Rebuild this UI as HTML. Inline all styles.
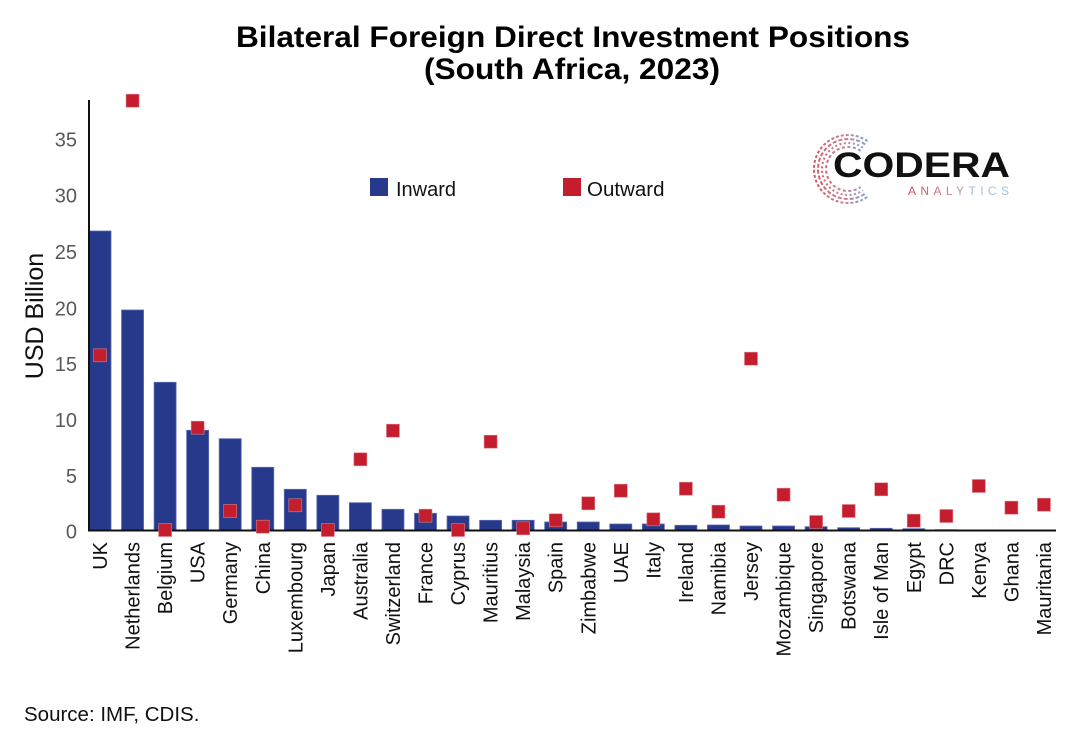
<!DOCTYPE html>
<html>
<head>
<meta charset="utf-8">
<style>
  html, body { margin: 0; padding: 0; background: #ffffff; }
  svg { display: block; }
  text { font-family: "Liberation Sans", Arial, sans-serif; }
</style>
</head>
<body>
<svg width="1080" height="748" viewBox="0 0 1080 748" xmlns="http://www.w3.org/2000/svg">
  <defs>
    <linearGradient id="lg" x1="908" y1="0" x2="1009" y2="0" gradientUnits="userSpaceOnUse">
      <stop offset="0" stop-color="#d4505c"/>
      <stop offset="0.45" stop-color="#c98a96"/>
      <stop offset="0.6" stop-color="#a8b8d0"/>
      <stop offset="1" stop-color="#9cc4e4"/>
    </linearGradient>
    <linearGradient id="ag" x1="812" y1="0" x2="870" y2="0" gradientUnits="userSpaceOnUse">
      <stop offset="0" stop-color="#d2505c"/>
      <stop offset="0.55" stop-color="#c77a8a"/>
      <stop offset="1" stop-color="#6fa6da"/>
    </linearGradient>
  </defs>
  <rect width="1080" height="748" fill="#ffffff"/>

  <!-- Title -->
  <text x="573" y="47" text-anchor="middle" font-size="30" font-weight="bold" fill="#000" textLength="674" lengthAdjust="spacingAndGlyphs">Bilateral Foreign Direct Investment Positions</text>
  <text x="572" y="79" text-anchor="middle" font-size="30" font-weight="bold" fill="#000" textLength="296" lengthAdjust="spacingAndGlyphs">(South Africa, 2023)</text>

  <!-- Logo -->
  <g fill="none" stroke="url(#ag)" stroke-width="2" opacity="0.95">
    <path d="M867.5 141.2 A34 34 0 1 0 867.5 196.8" stroke-dasharray="3 2"/>
    <path d="M865.2 144.4 A30 30 0 1 0 865.2 193.6" stroke-dasharray="4 2"/>
    <path d="M862.9 147.7 A26 26 0 1 0 862.9 190.3" stroke-dasharray="2 2.5"/>
    <path d="M860.6 150.9 A22 22 0 1 0 860.6 187.1" stroke-dasharray="3 2.5"/>
  </g>
  <text x="833" y="177" font-size="35" font-weight="bold" fill="#111" textLength="177" lengthAdjust="spacingAndGlyphs">CODERA</text>
  <text x="908" y="195" font-size="12" fill="url(#lg)" textLength="101" lengthAdjust="spacing">ANALYTICS</text>

  <!-- Legend -->
  <rect x="370" y="178" width="18" height="18" fill="#27398a"/>
  <text x="396" y="196" font-size="20" fill="#111">Inward</text>
  <rect x="563" y="178" width="18" height="18" fill="#c41e2e"/>
  <text x="587" y="196" font-size="20.5" fill="#111">Outward</text>

  <!-- Y axis tick labels -->
  <g font-size="20" fill="#595959" text-anchor="end">
    <text x="77" y="538.5">0</text>
    <text x="77" y="483">5</text>
    <text x="77" y="427">10</text>
    <text x="77" y="371">15</text>
    <text x="77" y="315.5">20</text>
    <text x="77" y="259">25</text>
    <text x="77" y="202.5">30</text>
    <text x="77" y="146.5">35</text>
  </g>
  <text transform="translate(43,316) rotate(-90)" text-anchor="middle" font-size="25" fill="#111">USD Billion</text>

  <!-- Bars -->
  <g fill="#27398a" stroke="#5a6ab0" stroke-width="0.8">
    <rect x="89" y="231" width="22" height="300"/>
    <rect x="121.55" y="310" width="22" height="221"/>
    <rect x="154.1" y="382.3" width="22" height="148.7"/>
    <rect x="186.65" y="430.3" width="22" height="100.7"/>
    <rect x="219.2" y="438.7" width="22" height="92.3"/>
    <rect x="251.75" y="467.3" width="22" height="63.7"/>
    <rect x="284.3" y="489.3" width="22" height="41.7"/>
    <rect x="316.85" y="495.3" width="22" height="35.7"/>
    <rect x="349.4" y="502.7" width="22" height="28.3"/>
    <rect x="381.95" y="509.3" width="22" height="21.7"/>
    <rect x="414.5" y="513.3" width="22" height="17.7"/>
    <rect x="447.05" y="516" width="22" height="15"/>
    <rect x="479.6" y="520.3" width="22" height="10.7"/>
    <rect x="512.15" y="520.3" width="22" height="10.7"/>
    <rect x="544.7" y="522" width="22" height="9"/>
    <rect x="577.25" y="522" width="22" height="9"/>
    <rect x="609.8" y="524" width="22" height="7"/>
    <rect x="642.35" y="524" width="22" height="7"/>
    <rect x="674.9" y="525.3" width="22" height="5.7"/>
    <rect x="707.45" y="525" width="22" height="6"/>
    <rect x="740" y="526" width="22" height="5"/>
    <rect x="772.55" y="526" width="22" height="5"/>
    <rect x="805.1" y="526.7" width="22" height="4.3"/>
    <rect x="837.65" y="527.7" width="22" height="3.3"/>
    <rect x="870.2" y="528.3" width="22" height="2.7"/>
    <rect x="902.75" y="528.7" width="22" height="2.3"/>
    <rect x="935.3" y="529.7" width="22" height="1.3"/>
  </g>

  <!-- Axes -->
  <line x1="89" y1="100" x2="89" y2="531.5" stroke="#111" stroke-width="2"/>
  <line x1="88" y1="530.5" x2="1056" y2="530.5" stroke="#111" stroke-width="2"/>

  <!-- Outward markers -->
  <g fill="#c41e2e" stroke="#e07a84" stroke-width="0.6">
    <rect x="93.5" y="348.8" width="13" height="13"/>
    <rect x="126.05" y="94.2" width="13" height="13"/>
    <rect x="158.6" y="523.5" width="13" height="13"/>
    <rect x="191.15" y="421.2" width="13" height="13"/>
    <rect x="223.7" y="504.5" width="13" height="13"/>
    <rect x="256.25" y="520.2" width="13" height="13"/>
    <rect x="288.8" y="498.8" width="13" height="13"/>
    <rect x="321.35" y="523.5" width="13" height="13"/>
    <rect x="353.9" y="452.8" width="13" height="13"/>
    <rect x="386.45" y="424.2" width="13" height="13"/>
    <rect x="419" y="509.2" width="13" height="13"/>
    <rect x="451.55" y="523.5" width="13" height="13"/>
    <rect x="484.1" y="435.2" width="13" height="13"/>
    <rect x="516.65" y="521.8" width="13" height="13"/>
    <rect x="549.2" y="513.8" width="13" height="13"/>
    <rect x="581.75" y="496.8" width="13" height="13"/>
    <rect x="614.3" y="484.2" width="13" height="13"/>
    <rect x="646.85" y="512.8" width="13" height="13"/>
    <rect x="679.4" y="482.2" width="13" height="13"/>
    <rect x="711.95" y="505.2" width="13" height="13"/>
    <rect x="744.5" y="352.2" width="13" height="13"/>
    <rect x="777.05" y="488.2" width="13" height="13"/>
    <rect x="809.6" y="515.5" width="13" height="13"/>
    <rect x="842.15" y="504.5" width="13" height="13"/>
    <rect x="874.7" y="482.8" width="13" height="13"/>
    <rect x="907.25" y="514.2" width="13" height="13"/>
    <rect x="939.8" y="509.5" width="13" height="13"/>
    <rect x="972.35" y="479.5" width="13" height="13"/>
    <rect x="1004.9" y="501.2" width="13" height="13"/>
    <rect x="1037.45" y="498.2" width="13" height="13"/>
  </g>

  <!-- X labels -->
  <g font-size="20" fill="#111" text-anchor="end">
    <text transform="translate(107,542) rotate(-90)">UK</text>
    <text transform="translate(139.55,542) rotate(-90)">Netherlands</text>
    <text transform="translate(172.1,542) rotate(-90)">Belgium</text>
    <text transform="translate(204.65,542) rotate(-90)">USA</text>
    <text transform="translate(237.2,542) rotate(-90)">Germany</text>
    <text transform="translate(269.75,542) rotate(-90)">China</text>
    <text transform="translate(302.3,542) rotate(-90)">Luxembourg</text>
    <text transform="translate(334.85,542) rotate(-90)">Japan</text>
    <text transform="translate(367.4,542) rotate(-90)">Australia</text>
    <text transform="translate(399.95,542) rotate(-90)">Switzerland</text>
    <text transform="translate(432.5,542) rotate(-90)">France</text>
    <text transform="translate(465.05,542) rotate(-90)">Cyprus</text>
    <text transform="translate(497.6,542) rotate(-90)">Mauritius</text>
    <text transform="translate(530.15,542) rotate(-90)">Malaysia</text>
    <text transform="translate(562.7,542) rotate(-90)">Spain</text>
    <text transform="translate(595.25,542) rotate(-90)">Zimbabwe</text>
    <text transform="translate(627.8,542) rotate(-90)">UAE</text>
    <text transform="translate(660.35,542) rotate(-90)">Italy</text>
    <text transform="translate(692.9,542) rotate(-90)">Ireland</text>
    <text transform="translate(725.45,542) rotate(-90)">Namibia</text>
    <text transform="translate(758,542) rotate(-90)">Jersey</text>
    <text transform="translate(790.55,542) rotate(-90)">Mozambique</text>
    <text transform="translate(823.1,542) rotate(-90)">Singapore</text>
    <text transform="translate(855.65,542) rotate(-90)">Botswana</text>
    <text transform="translate(888.2,542) rotate(-90)">Isle of Man</text>
    <text transform="translate(920.75,542) rotate(-90)">Egypt</text>
    <text transform="translate(953.3,542) rotate(-90)">DRC</text>
    <text transform="translate(985.85,542) rotate(-90)">Kenya</text>
    <text transform="translate(1018.4,542) rotate(-90)">Ghana</text>
    <text transform="translate(1050.95,542) rotate(-90)">Mauritania</text>
  </g>

  <!-- Source -->
  <text x="24" y="721" font-size="20.5" fill="#111">Source: IMF, CDIS.</text>
</svg>
</body>
</html>
